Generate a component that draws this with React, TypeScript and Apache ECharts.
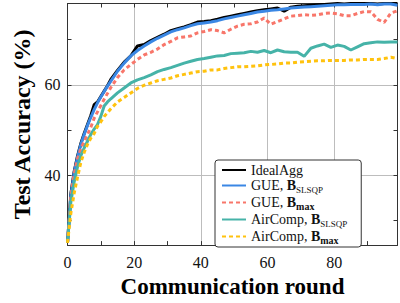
import React, { useEffect, useRef } from 'react';
import * as echarts from 'echarts';

const rounds = [0, 1, 2, 3, 4, 5, 6, 7, 8, 9, 10, 11, 12,
  13, 15, 17, 19, 21, 23, 25, 27, 29, 31, 33, 35, 37, 39, 41, 43, 45, 47, 49, 51, 53, 55, 57, 59,
  61, 63, 65, 67, 69, 71, 73, 75, 77, 79, 81, 83, 85, 87, 89, 91, 93, 95, 97, 99];

const idealAgg = [25, 35.8, 40.8, 44.2, 47, 49.2, 51.2, 53.2, 55.6, 56.2, 57.4, 58.6, 59.8,
  61.2, 63.2, 65, 66.4, 68.6, 68.9, 69.8, 70.5, 71.2, 72, 72.4, 72.8, 73.3, 73.9, 74, 74.2, 74.5, 74.9, 75.2, 75.5, 75.8, 76.1, 76.4, 76.6,
  76.8, 77, 76.3, 77.2, 77.4, 77.5, 77.6, 77.7, 77.8, 77.9, 78, 77.9, 78, 78, 78, 78, 77.9, 78, 78, 78];

const gueSlsqp = [25, 35.5, 40.5, 44, 46.8, 49, 51, 52.8, 54.5, 56, 57.3, 58.5, 59.7,
  60.8, 63, 64.8, 66.4, 67.6, 68.6, 69.5, 70.3, 71, 71.7, 72.2, 72.6, 73.1, 73.5, 73.7, 73.9, 74.2, 74.6, 74.9, 75.2, 75.5, 75.8, 76.1, 76.3,
  76.5, 76.6, 76.8, 77, 77.1, 77.2, 77.3, 77.4, 77.5, 77.6, 77.7, 77.7, 77.8, 77.8, 77.8, 77.9, 77.7, 77.9, 77.9, 77.6];

const gueBmax = [25, 35.2, 40.2, 43.6, 45.8, 47.4, 49, 50.6, 52.6, 54, 55.4, 56.8, 58.1,
  59.4, 61.6, 63.3, 64.5, 65.6, 66.6, 67.2, 67.9, 68.9, 69.6, 70.4, 70.6, 70.8, 71.5, 71.8, 72.2, 72, 71.5, 72.3, 73, 73.4, 73.5, 73.9, 74.8,
  73.4, 74, 74.6, 75.2, 75.3, 75.5, 75.4, 75.5, 75.8, 75.9, 75.7, 75.3, 75.3, 75.8, 76.2, 76.2, 74.5, 73.8, 75.9, 76.4];

const airSlsqp = [25, 34, 38.5, 41.8, 44.3, 46, 47.5, 49, 50.2, 51.2, 53, 55.3, 56.2,
  56.9, 58.2, 59.3, 60.4, 61.1, 61.6, 62.2, 62.9, 63.4, 63.8, 64.3, 64.8, 65.2, 65.6, 65.8, 66.1, 66.4, 66.5, 66.9, 67, 67.1, 67.4, 67.2, 67.6,
  67.1, 67.7, 67.3, 67.2, 67.2, 66.3, 68.1, 68.6, 69, 68.3, 68.8, 68.5, 67.7, 68.4, 69.1, 69.3, 69.5, 69.4, 69.5, 69.5];

const airBmax = [25, 31.5, 36, 39.5, 42.8, 45, 46.8, 48.2, 49.2, 50.8, 51.8, 53, 53.8,
  54.7, 56.2, 57.2, 58.2, 59.2, 59.9, 60.4, 60.9, 61.2, 61.5, 62, 62.3, 62.6, 62.9, 63, 63.3, 63.3, 63.6, 63.8, 64, 64, 64.1, 64.2, 64.4,
  64.5, 64.6, 64.8, 64.8, 65, 65.1, 65.2, 65.3, 65.3, 65.4, 65.4, 65.4, 65.5, 65.5, 65.6, 65.6, 65.6, 65.8, 66.1, 65.8];

const seriesNames = ['IdealAgg', 'GUE, B_SLSQP', 'GUE, B_max', 'AirComp, B_SLSQP', 'AirComp, B_max'];
const legendRich: Record<string, string> = {
  'IdealAgg': '{r|IdealAgg}',
  'GUE, B_SLSQP': '{r|GUE, }{b|B}{s|SLSQP}',
  'GUE, B_max': '{r|GUE, }{b|B}{m|max}',
  'AirComp, B_SLSQP': '{r|AirComp, }{b|B}{s|SLSQP}',
  'AirComp, B_max': '{r|AirComp, }{b|B}{m|max}',
};
const seriesValues = [idealAgg, gueSlsqp, gueBmax, airSlsqp, airBmax];
const seriesColors = ['#000000', '#3a87e4', '#f8766a', '#46b3a8', '#ffc20e'];
const seriesDashed = [false, false, true, false, true];

const xLabels = [0, 20, 40, 60, 80];
const xMinorTicks = [10, 20, 30, 40, 50, 60, 70, 80, 90];
const yLabels = [40, 60];
const yMinorTicks = [30, 40, 50, 60, 70];
const xMin = 0, xMax = 99, yMin = 24.5, yMax = 78;

const FONT = "'Liberation Serif', 'DejaVu Serif', serif";
const FRAME = '#333333';
const GRID = '#bdbdbd';

export default function App() {
  const ref = useRef<HTMLDivElement>(null);
  useEffect(() => {
    document.body.style.margin = '0';
    if (!ref.current) return;
    const chart = echarts.init(ref.current, undefined, { renderer: 'svg' });
    const overlayX = (position: string) => ({
      type: 'value', min: xMin, max: xMax, position,
      axisLine: { show: true, onZero: false, lineStyle: { color: FRAME, width: 1 } },
      axisTick: { show: true, inside: true, length: 4, customValues: xMinorTicks, lineStyle: { color: FRAME } },
      axisLabel: { show: false }, splitLine: { show: false },
    });
    const overlayY = (position: string) => ({
      type: 'value', min: yMin, max: yMax, position,
      axisLine: { show: true, onZero: false, lineStyle: { color: FRAME, width: 1 } },
      axisTick: { show: true, inside: true, length: 4, customValues: yMinorTicks, lineStyle: { color: FRAME } },
      axisLabel: { show: false }, splitLine: { show: false },
    });
    chart.setOption({
      animation: false,
      backgroundColor: '#ffffff',
      grid: { left: 67.5, right: 2.5, top: 3.5, bottom: 47.5 },
      xAxis: [
        {
          type: 'value', min: xMin, max: xMax, position: 'bottom',
          axisLine: { show: false }, axisTick: { show: false, customValues: xLabels },
          axisLabel: { customValues: xLabels, color: '#111', fontFamily: FONT, fontSize: 16, margin: 9 },
          splitLine: { show: true, lineStyle: { color: GRID, width: 1 } },
          name: 'Communication round', nameLocation: 'middle', nameGap: 22,
          nameTextStyle: { fontFamily: FONT, fontWeight: 'bold', fontSize: 23, color: '#000' },
        },
        overlayX('bottom'),
        overlayX('top'),
      ],
      yAxis: [
        {
          type: 'value', min: yMin, max: yMax, position: 'left',
          axisLine: { show: false }, axisTick: { show: false, customValues: yLabels },
          axisLabel: { customValues: yLabels, color: '#111', fontFamily: FONT, fontSize: 16, margin: 7 },
          splitLine: { show: true, lineStyle: { color: GRID, width: 1 } },
          name: 'Test Accuracy (%)', nameLocation: 'middle', nameGap: 28,
          nameTextStyle: { fontFamily: FONT, fontWeight: 'bold', fontSize: 24, color: '#000' },
        },
        overlayY('left'),
        overlayY('right'),
      ],
      legend: {
        show: true, orient: 'vertical', left: 215, top: 160,
        data: seriesNames,
        itemWidth: 24, itemHeight: 14, itemGap: 0,
        padding: [3, 14, 2, 6],
        backgroundColor: '#ffffff', borderColor: '#333', borderWidth: 1, borderRadius: 3,
        itemStyle: { opacity: 0, borderWidth: 0 },
        formatter: (name: string) => legendRich[name] || name,
        textStyle: {
          fontFamily: FONT, fontSize: 14, color: '#111',
          rich: {
            r: { fontFamily: FONT, fontSize: 14, color: '#111', lineHeight: 17 },
            b: { fontFamily: FONT, fontSize: 14, fontWeight: 'bold', color: '#111', lineHeight: 17 },
            s: { fontFamily: FONT, fontSize: 9, color: '#111', lineHeight: 9, padding: [8, 0, 0, 0] },
            m: { fontFamily: FONT, fontSize: 10, fontWeight: 'bold', color: '#111', lineHeight: 10, padding: [7, 0, 0, 0] },
          },
        },
      },
      series: seriesNames.map((name, k) => ({
        name, type: 'line', xAxisIndex: 0, yAxisIndex: 0,
        data: rounds.map((r, i) => [r, seriesValues[k][i]]),
        symbol: 'none', showSymbol: false,
        itemStyle: { color: seriesColors[k] },
        lineStyle: { color: seriesColors[k], width: 3, type: seriesDashed[k] ? [4, 3] : 'solid' },
        z: 2 + k,
      })),
    });
    return () => chart.dispose();
  }, []);
  return <div ref={ref} style={{ width: 400, height: 303 }} />;
}
